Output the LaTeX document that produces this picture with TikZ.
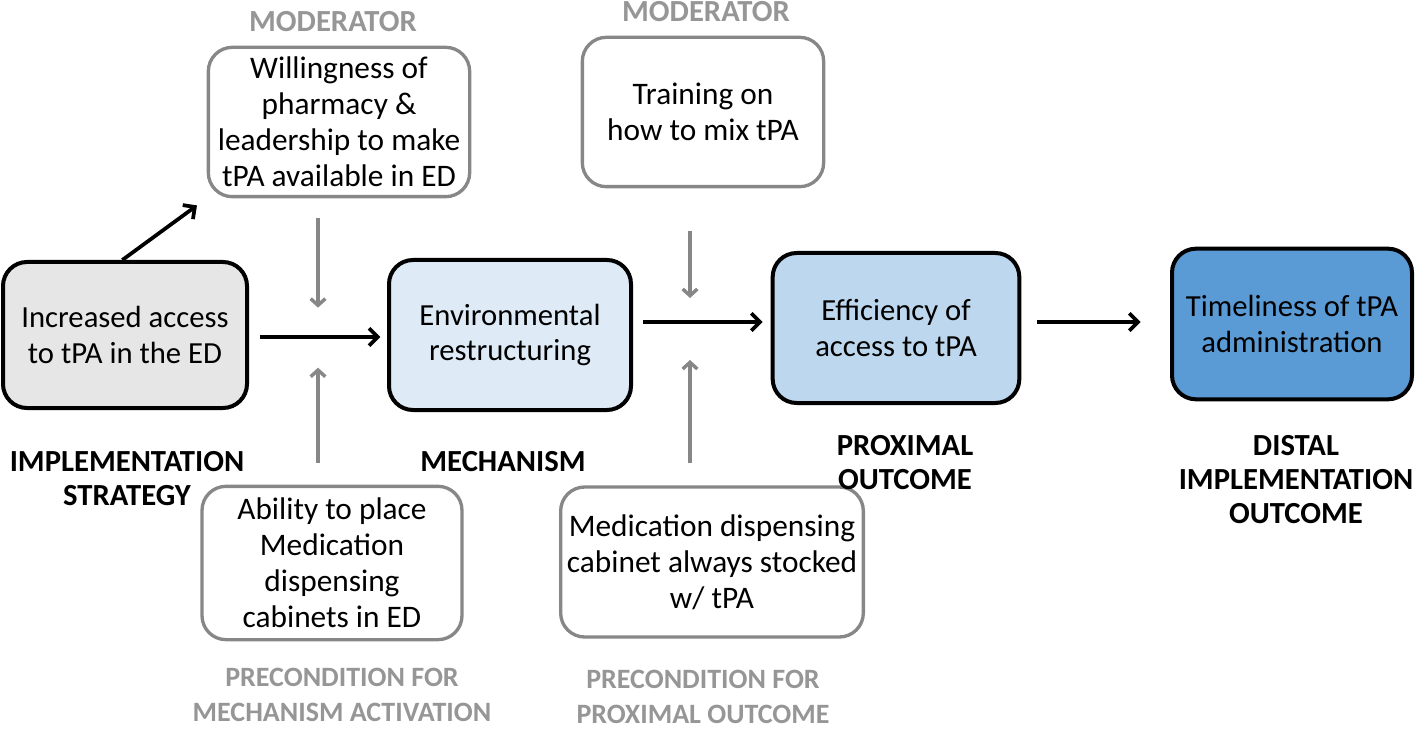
\documentclass[tikz,border=0pt]{standalone}
\usepackage{fontspec}
\setmainfont{Carlito}
\usepackage{tikz}
\usetikzlibrary{arrows.meta}
\definecolor{stratgray}{RGB}{231,230,230}
\definecolor{mechblue}{RGB}{222,235,247}
\definecolor{proxblue}{RGB}{189,215,238}
\definecolor{distblue}{RGB}{91,155,213}
\definecolor{modgray}{RGB}{135,135,135}
\definecolor{labgray}{RGB}{150,150,150}

\begin{document}
\begin{tikzpicture}[x=0.75pt,y=0.75pt,yscale=-1,xscale=1,
  mainbox/.style={draw=black,line width=3pt,rounded corners=18pt,align=center,inner sep=0.75pt,font=\fontsize{23}{26.5}\selectfont},
  sidebox/.style={draw=modgray,line width=2.5pt,rounded corners=18pt,align=center,inner sep=0.75pt,font=\fontsize{23.5}{27}\selectfont},
  headlbl/.style={align=center,inner sep=0.75pt,font=\bfseries\fontsize{23}{25.5}\selectfont},
  sidelbl/.style={headlbl,text=labgray},
  prelbl/.style={sidelbl,font=\bfseries\fontsize{21}{26.5}\selectfont},
  blackarr/.style={-{Straight Barb[length=6.5pt,width=13pt]},line width=2.8pt},
  grayarr/.style={-{Straight Barb[length=5pt,width=11pt]},line width=2.6pt,draw=modgray}]
\useasboundingbox (0,0) rectangle (1418,731);

% Main boxes
\draw (125,335) node [mainbox,fill=stratgray,minimum width=183pt,minimum height=109.5pt] (strat) {Increased access\\to tPA in the ED};
\draw (510,335) node [mainbox,fill=mechblue,minimum width=181.5pt,minimum height=112.5pt] (mech) {Environmental\\restructuring};
\draw (896,328) node [mainbox,fill=proxblue,minimum width=185pt,minimum height=112.5pt] (prox) {Efficiency of\\access to tPA};
\draw (1292,324) node [mainbox,fill=distblue,minimum width=180pt,minimum height=113pt] (dist) {Timeliness of tPA\\administration};

% Moderator and precondition boxes
\draw (339,122) node [sidebox,minimum width=196pt,minimum height=112pt] (modA) {Willingness of\\pharmacy \&\\leadership to make\\tPA available in ED};
\draw (703,112) node [sidebox,minimum width=181pt,minimum height=112pt] (modB) {Training on\\how to mix tPA};
\draw (332,563) node [sidebox,minimum width=195pt,minimum height=115pt] (preA) {Ability to place\\Medication\\dispensing\\cabinets in ED};
\draw (712,562) node [sidebox,minimum width=227pt,minimum height=112.5pt] (preB) {Medication dispensing\\cabinet always stocked\\w/ tPA};

% Text Node
\draw (333,22) node [sidelbl] (lblModA) {MODERATOR};
\draw (706,12) node [sidelbl] (lblModB) {MODERATOR};
\draw (127,479) node [headlbl] (lblStrat) {IMPLEMENTATION\\STRATEGY};
\draw (503,462) node [headlbl] (lblMech) {MECHANISM};
\draw (905,463) node [headlbl] (lblProx) {PROXIMAL\\OUTCOME};
\draw (1296,480) node [headlbl] (lblDist) {DISTAL\\IMPLEMENTATION\\OUTCOME};
\draw (342,695) node [prelbl] (lblPreA) {PRECONDITION FOR\\MECHANISM ACTIVATION};
\draw (703,697) node [prelbl] (lblPreB) {PRECONDITION FOR\\PROXIMAL OUTCOME};

% Junctions on the main arrows
\coordinate (jA) at (318,337);
\coordinate (jB) at (690,322);

% Main arrows
\draw [blackarr,shorten <=8pt,shorten >=5pt] (strat.east |- jA) -- (mech.west |- jA);
\draw [blackarr,shorten <=7.5pt,shorten >=6pt] (mech.east |- jB) -- (prox.west |- jB);
\draw [blackarr,shorten <=12pt,shorten >=22pt] (prox.east |- jB) -- (dist.west |- jB);
\draw [blackarr,shorten >=9pt] ([xshift=-2pt]strat.north) -- (modA.south west);

% Moderator / precondition arrows
\draw [grayarr,shorten <=15pt,shorten >=22pt] (modA.south -| jA) -- (jA);
\draw [grayarr,shorten <=16.5pt,shorten >=23pt] (preA.north -| jA) -- (jA);
\draw [grayarr,shorten <=32pt,shorten >=18pt] (modB.south -| jB) -- (jB);
\draw [grayarr,shorten <=16.5pt,shorten >=28.5pt] (preB.north -| jB) -- (jB);

\end{tikzpicture}
\end{document}
